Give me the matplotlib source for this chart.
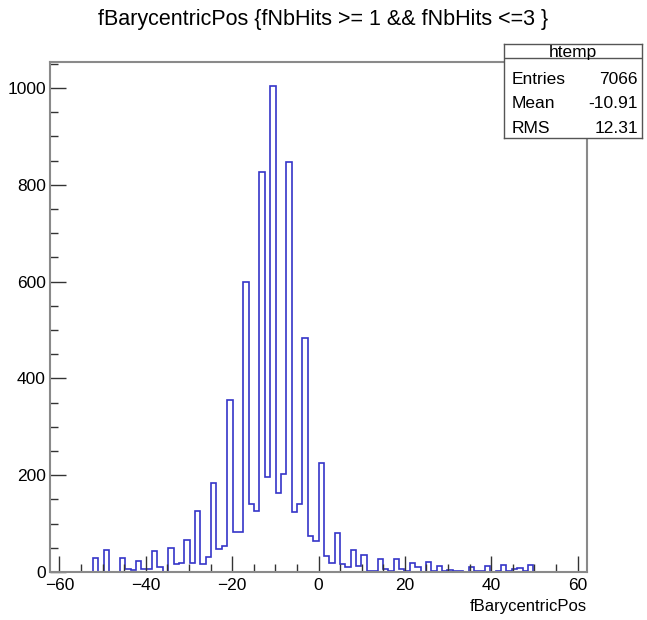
#!/usr/bin/env python3
import numpy as np
import matplotlib
matplotlib.use("Agg")
import matplotlib.pyplot as plt
from matplotlib.ticker import MultipleLocator

# histogram htemp: 100 bins over the drawn range
X_MIN, X_MAX = -62.2, 62.2
N_BINS = 100
counts = [
    0, 0, 0, 0, 0, 0, 0, 0, 28, 0,
    45, 1, 1, 28, 6, 5, 23, 6, 6, 44,
    10, 0, 50, 16, 18, 67, 19, 126, 17, 30,
    184, 47, 54, 356, 83, 83, 600, 141, 127, 827,
    197, 1004, 163, 202, 847, 123, 141, 484, 75, 65,
    225, 33, 18, 80, 16, 11, 46, 12, 36, 3,
    2, 27, 6, 3, 27, 6, 3, 19, 10, 1,
    21, 3, 12, 3, 5, 3, 2, 1, 10, 3,
    2, 13, 0, 3, 15, 2, 6, 8, 2, 15,
    0, 0, 0, 0, 0, 0, 0, 0, 0, 0,
]
stat_names = ["Entries", "Mean", "RMS"]
stat_values = ["7066", "-10.91", "12.31"]
hist_name = "htemp"
title = "fBarycentricPos {fNbHits >= 1 && fNbHits <=3 }"
xlabel = "fBarycentricPos"

plt.rcParams['font.family'] = ['Liberation Sans', 'DejaVu Sans']

W, H = 647, 620
fig = plt.figure(figsize=(W / 100, H / 100), dpi=100)
ax = fig.add_axes([50 / W, 1 - 572 / H, 537 / W, 510.3 / H])

edges = np.linspace(X_MIN, X_MAX, N_BINS + 1)
ax.stairs(counts, edges, color="#3535c8", linewidth=1.2)

ax.set_xlim(X_MIN, X_MAX)
ax.set_ylim(0, 1.05 * max(counts))
ax.xaxis.set_major_locator(MultipleLocator(20))
ax.xaxis.set_minor_locator(MultipleLocator(5))
ax.yaxis.set_major_locator(MultipleLocator(200))
ax.yaxis.set_minor_locator(MultipleLocator(50))
ax.tick_params(which='both', direction='in', top=False, right=False,
               color="#333333", labelsize=12.5)
ax.tick_params(which='major', length=11.5, width=1)
ax.tick_params(which='minor', length=6, width=1)
ax.tick_params(axis='x', pad=4)
ax.tick_params(axis='y', pad=3)
for sp in ax.spines.values():
    sp.set_color("#8a8a8a")
    sp.set_linewidth(1.5)

fig.text(0.5, 1 - 20 / H, title, ha='center', va='center', fontsize=15.5)
fig.text(587 / W, 1 - 607 / H, xlabel, ha='right', va='center', fontsize=12)

# stat box
sb = fig.add_axes([504 / W, 1 - 138 / H, 138 / W, 94 / H])
sb.set_xlim(0, 1)
sb.set_ylim(0, 94)
sb.set_xticks([])
sb.set_yticks([])
for sp in sb.spines.values():
    sp.set_color("#555555")
    sp.set_linewidth(1)
sb.axhline(94 - 14, color="#555555", linewidth=1)
sb.text(0.5, 94 - 8, hist_name, ha='center', va='center', fontsize=12.5)
rows_y = [94 - 35, 94 - 60, 94 - 84]
for name, val, yy in zip(stat_names, stat_values, rows_y):
    sb.text(8 / 138, yy, name, ha='left', va='center', fontsize=12.5)
    sb.text(134 / 138, yy, val, ha='right', va='center', fontsize=12.5)

fig.savefig("out.png", dpi=100)
